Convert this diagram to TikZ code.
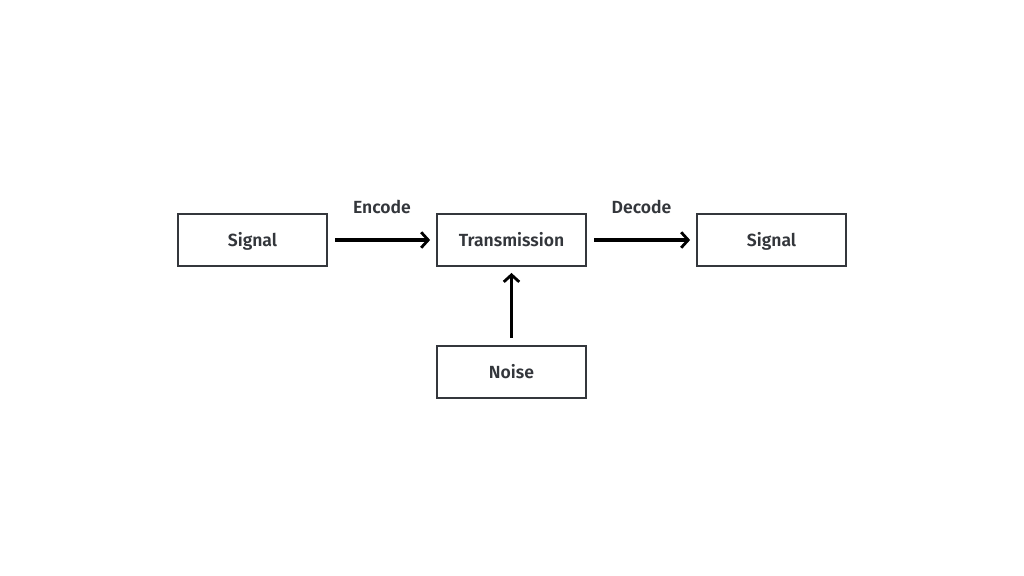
\documentclass[tikz,border=0pt]{standalone}
\usepackage{fontspec}
\setmainfont{Fira Sans}[BoldFont={Fira Sans SemiBold}]
\usetikzlibrary{arrows.meta}
\definecolor{boxline}{HTML}{34373C}
\definecolor{txt}{HTML}{33363B}
\tikzset{
  blockbox/.style={draw=boxline, line width=1.9pt, minimum width=3.72cm, minimum height=1.3cm, text height=2ex, text depth=0.2ex, text=txt, font=\fontsize{12.5}{14}\selectfont\bfseries},
  flow/.style={line width=2.2pt, -{Straight Barb[length=5pt,width=11pt,line width=2pt]}},
  lbl/.style={text=txt, font=\fontsize{12.5}{14}\selectfont\bfseries}
}
\begin{document}
\begin{tikzpicture}[x=0.025cm,y=-0.025cm]
% \draw [help lines] (0,0) grid (1024,576) ;
\useasboundingbox (0,0) rectangle (1024,576);
\node[blockbox] (sigin) at (252.5,240) {Signal};
\node[blockbox] (trans) at (511.5,240) {Transmission};
\node[blockbox] (sigout) at (771.5,240) {Signal};
\node[blockbox] (noise) at (511.5,372) {Noise};
\draw[flow, shorten <=5pt, shorten >=4pt] (sigin) -- (trans) node[lbl, midway, yshift=0.82cm] (enc) {Encode};
\draw[flow, shorten <=5pt, shorten >=4pt] (trans) -- (sigout) node[lbl, midway, yshift=0.82cm] (dec) {Decode};
\draw[flow, shorten <=5pt, shorten >=4pt] (noise) -- (trans);
\end{tikzpicture}
\end{document}
